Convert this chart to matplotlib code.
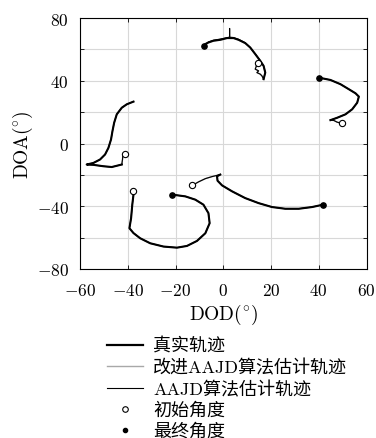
import matplotlib
matplotlib.use("Agg")
import matplotlib.pyplot as plt
from matplotlib.lines import Line2D
from matplotlib.ticker import FuncFormatter

plt.rcParams['mathtext.fontset'] = 'cm'
plt.rcParams['font.family'] = ['cmr10', 'Noto Sans CJK SC', 'DejaVu Sans']
plt.rcParams['axes.unicode_minus'] = False

# ---------------- data (degrees) ----------------
# target 1 (top arc)
t1_head_x = [14.4, 13.9, 13.4, 14.8, 14.1, 15.5, 16.2, 16.9]
t1_head_y = [51.6, 49.5, 47.4, 46.3, 45.2, 44.2, 43.1, 41.0]
t1_x = [16.9, 17.6, 16.9, 15.5, 13.4, 11.3, 9.2, 6.4, 4.3, 1.6, -1.25, -4.1, -6.2, -7.5, -8.0]
t1_y = [41.0, 45.2, 49.5, 52.7, 57.0, 61.2, 64.0, 66.1, 67.2, 67.2, 66.1, 65.5, 64.4, 63.4, 61.9]
t1_aajd_x = [16.9, 17.6, 16.9, 15.5, 13.4, 11.3, 9.2, 6.4, 4.3, 2.8, 2.7, 2.6, 1.6, -1.25, -4.1, -6.2, -7.5, -8.0]
t1_aajd_y = [41.0, 45.4, 49.3, 52.9, 57.2, 61.0, 64.3, 66.5, 67.6, 67.8, 73.4, 67.9, 67.5, 66.6, 65.9, 64.8, 63.2, 61.9]

# target 2 (right hook)
t2_head_x = [49.8, 47.7, 46.3, 44.9]
t2_head_y = [12.8, 13.6, 14.7, 14.9]
t2_x = [44.9, 47.7, 51.2, 54.0, 56.1, 56.8, 55.4, 52.6, 49.1, 44.9, 40.0]
t2_y = [14.9, 16.4, 18.6, 21.8, 26.0, 29.9, 32.0, 34.6, 37.8, 40.5, 42.0]

# target 3 (left S)
t3_head_x = [-41.1, -42.1, -42.2, -42.5]
t3_head_y = [-6.4, -8.1, -10.2, -13.4]
t3_x = [-42.5, -46.7, -50.2, -54.4, -57.2, -54.4, -51.6, -49.5, -48.1, -47.0, -46.4, -45.7, -44.6, -42.5, -40.4, -37.6]
t3_y = [-13.4, -15.0, -14.5, -13.6, -13.4, -12.4, -10.2, -7.0, -2.8, 2.6, 7.9, 13.2, 18.6, 22.8, 25.0, 26.7]

# target 4 (bottom-left U)
t4_head_x = [-37.9, -37.6]
t4_head_y = [-30.1, -32.6]
t4_x = [-37.6, -38.1, -38.6, -39.3, -37.6, -34.8, -30.6, -25.0, -19.4, -15.2, -11.0, -7.5, -5.7, -6.2, -8.3, -11.7, -15.9, -21.3]
t4_y = [-32.6, -39.0, -47.6, -54.0, -57.1, -60.4, -63.6, -65.7, -66.4, -65.3, -62.1, -57.2, -50.8, -44.4, -39.0, -35.8, -33.7, -32.6]

# target 5 (bottom-middle)
t5_head_x = [-12.9, -10.4, -7.5, -4.7, -1.25]
t5_head_y = [-26.7, -24.5, -22.4, -21.1, -19.8]
t5_x = [-1.25, -2.6, -2.4, -0.5, 3.7, 9.2, 14.8, 20.4, 26.0, 31.6, 37.2, 41.8]
t5_y = [-19.8, -20.9, -23.7, -26.7, -30.5, -34.8, -38.0, -40.5, -41.6, -41.6, -40.5, -39.0]

heads = [(t1_head_x, t1_head_y), (t2_head_x, t2_head_y), (t3_head_x, t3_head_y),
         (t4_head_x, t4_head_y), (t5_head_x, t5_head_y)]
tracks = [(t1_x, t1_y), (t2_x, t2_y), (t3_x, t3_y), (t4_x, t4_y), (t5_x, t5_y)]
aajd_tracks = [(t1_aajd_x, t1_aajd_y), (t2_x, t2_y), (t3_x, t3_y), (t4_x, t4_y), (t5_x, t5_y)]
show_final = [True, True, False, True, True]

legend_labels = ['真实轨迹', '改进AAJD算法估计轨迹', 'AAJD算法估计轨迹', '初始角度', '最终角度']
xticks = [-60, -40, -20, 0, 20, 40, 60]
yticks = [-80, -60, -40, -20, 0, 20, 40, 60, 80]
ylabels_shown = [-80, -40, 0, 40, 80]

# ---------------- figure ----------------
fig = plt.figure(figsize=(3.76, 4.39), dpi=100)
ax = fig.add_axes([80 / 376, 1 - 270 / 439, 286.5 / 376, 251 / 439])

for (hx, hy), (tx, ty), (ax_, ay_) in zip(heads, tracks, aajd_tracks):
    ax.plot(list(hx) + list(tx), list(hy) + list(ty), color='#a0a0a0', lw=1.0, zorder=2)
    ax.plot(hx, hy, color='black', lw=0.8, zorder=3)
    ax.plot(ax_, ay_, color='black', lw=0.7, zorder=3)
    ax.plot(tx, ty, color='black', lw=1.5, zorder=4, solid_joinstyle='round')

for (hx, hy), (tx, ty), fin in zip(heads, tracks, show_final):
    ax.plot(hx[0], hy[0], marker='o', ms=4.5, mfc='white', mec='black', mew=0.8, zorder=5)
    if fin:
        ax.plot(tx[-1], ty[-1], marker='o', ms=3.8, mfc='black', mec='black', zorder=5)

ax.set_xlim(-60, 60)
ax.set_ylim(-80, 80)
ax.set_xticks(xticks)
ax.set_yticks(yticks)
ax.xaxis.set_major_formatter(FuncFormatter(lambda v, p: r'$%d$' % v))
ax.yaxis.set_major_formatter(FuncFormatter(lambda v, p: (r'$%d$' % v) if int(round(v)) in ylabels_shown else ''))
ax.tick_params(direction='in', length=3, width=0.6, top=True, right=True, labelsize=12.5)
ax.tick_params(axis='x', pad=9)
ax.tick_params(axis='y', pad=8)
ax.grid(True, color='#d8d8d8', lw=0.8)
ax.set_axisbelow(True)
for s in ax.spines.values():
    s.set_linewidth(0.8)

ax.set_xlabel(r'$\mathrm{DOD}(^{\circ})$', fontsize=14, labelpad=3)
ax.set_ylabel(r'$\mathrm{DOA}(^{\circ})$', fontsize=14, labelpad=1)

handles = [
    Line2D([], [], color='black', lw=1.6),
    Line2D([], [], color='#a8a8a8', lw=1.0),
    Line2D([], [], color='black', lw=0.8),
    Line2D([], [], ls='none', marker='o', ms=4, mfc='white', mec='black', mew=0.8),
    Line2D([], [], ls='none', marker='o', ms=3, mfc='black', mec='black'),
]
fig.legend(handles, legend_labels, loc='upper left', bbox_to_anchor=(107 / 376, 1 - 338 / 439),
           frameon=False, handlelength=2.0, handletextpad=0.55, labelspacing=0.24,
           borderpad=0, borderaxespad=0,
           prop={'family': ['cmr10', 'Noto Sans CJK SC'], 'size': 13})

fig.savefig('out.png', dpi=100)
